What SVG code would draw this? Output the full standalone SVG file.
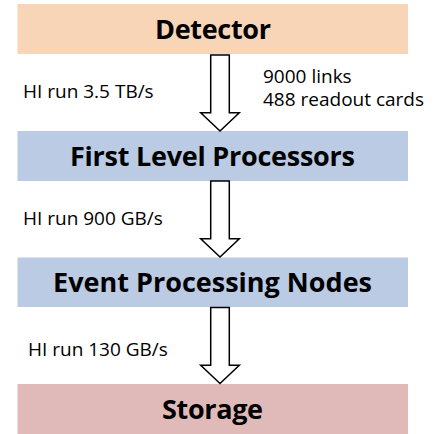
<svg xmlns="http://www.w3.org/2000/svg" width="436" height="434" viewBox="0 0 436 434">
  <style>
    .stage { stroke: none; }
    .title { font-family: "Open Sans", "Liberation Sans", sans-serif; font-weight: bold; font-size: 27px; fill: #000; text-anchor: middle; }
    .note { font-family: "Open Sans", "Liberation Sans", sans-serif; font-size: 19px; fill: #000; }
    .flow { fill: #fff; stroke: #000; stroke-width: 1.5; stroke-linejoin: miter; }
  </style>
  <defs>
    <!-- block arrow pointing down, origin at top of shaft centre -->
    <path id="blockArrow" d="M -9.3 0 H 9.3 V 57.7 H 19.3 L 0 76 L -19.3 57.7 H -9.3 Z"/>
  </defs>
  <rect width="436" height="434" fill="#fff"/>

  <g id="detector">
    <rect class="stage" x="17.5" y="4" width="390.5" height="50" fill="#F8D5B6"/>
    <text class="title" x="213" y="39" textLength="116" lengthAdjust="spacing">Detector</text>
  </g>

  <g id="first-level-processors">
    <rect class="stage" x="17.5" y="131" width="390.5" height="50" fill="#BACBE3"/>
    <text class="title" x="212.5" y="165.5" textLength="285" lengthAdjust="spacing">First Level Processors</text>
  </g>

  <g id="event-processing-nodes">
    <rect class="stage" x="17.5" y="257.5" width="390.5" height="49.5" fill="#BACBE3"/>
    <text class="title" x="212.5" y="292" textLength="319" lengthAdjust="spacing">Event Processing Nodes</text>
  </g>

  <g id="storage">
    <rect class="stage" x="17.5" y="384" width="390.5" height="50" fill="#E0BAB9"/>
    <text class="title" x="212.5" y="418.5" textLength="101" lengthAdjust="spacing">Storage</text>
  </g>

  <g id="connectors">
    <use href="#blockArrow" class="flow" x="220" y="55"/>
    <use href="#blockArrow" class="flow" x="220" y="181"/>
    <use href="#blockArrow" class="flow" x="220" y="307.5"/>
  </g>

  <g id="labels">
    <text class="note" x="23" y="97.7">HI run 3.5 TB/s</text>
    <text class="note" x="263" y="82.7">9000 links</text>
    <text class="note" x="263" y="106">488 readout cards</text>
    <text class="note" x="23" y="225">HI run 900 GB/s</text>
    <text class="note" x="28" y="355.7">HI run 130 GB/s</text>
  </g>
</svg>
